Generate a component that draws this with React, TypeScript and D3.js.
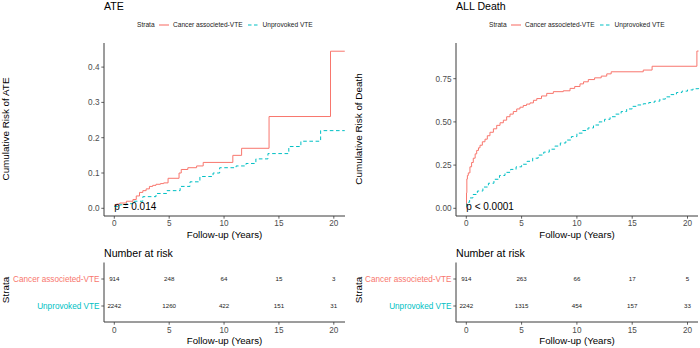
import React from 'react';
import * as d3 from 'd3';

// ---------- data ----------
const strata = ['Cancer associeted-VTE', 'Unprovoked VTE'];
const strataColors = ['#F8766D', '#00BFC4'];
const panelTitles = ['ATE', 'ALL Death'];
const yTitles = ['Cumulative Risk of ATE', 'Cumulative Risk of Death'];
const pValues = ['p = 0.014', 'p < 0.0001'];
const xTicks = [0, 5, 10, 15, 20];
const ateYTicks = [0, 0.1, 0.2, 0.3, 0.4];
const deathYTicks = [0, 0.25, 0.5, 0.75];

const ateCancerTime = [0, 0.2, 0.5, 1.1, 1.7, 2.0, 2.3, 2.6, 2.9, 3.2, 3.5, 3.8, 4.2, 4.5, 4.9, 5.9, 6.1, 6.7, 7.5, 8.1, 10.8, 11.6, 14.1, 19.7, 21.0];
const ateCancerRisk = [0.008, 0.012, 0.015, 0.02, 0.025, 0.035, 0.045, 0.05, 0.055, 0.062, 0.065, 0.068, 0.07, 0.072, 0.085, 0.1, 0.11, 0.115, 0.12, 0.13, 0.15, 0.17, 0.26, 0.445, 0.445];
const ateUnprovTime = [0, 0.5, 1.1, 1.7, 2.6, 3.8, 4.8, 6.0, 6.9, 7.8, 9.0, 9.6, 11.1, 12.0, 12.9, 14.0, 15.9, 17.0, 18.8, 21.0];
const ateUnprovRisk = [0.005, 0.01, 0.013, 0.02, 0.033, 0.042, 0.05, 0.062, 0.075, 0.09, 0.1, 0.115, 0.12, 0.127, 0.14, 0.155, 0.175, 0.19, 0.22, 0.22];

const deathCancerTime = [0, 0.02, 0.05, 0.1, 0.18, 0.33, 0.48, 0.63, 0.8, 0.94, 1.1, 1.24, 1.45, 1.69, 1.9, 2.14, 2.45, 2.75, 3.05, 3.35, 3.65, 3.95, 4.25, 4.56, 4.85, 5.15, 5.45, 5.76, 6.07, 6.37, 6.8, 7.27, 7.87, 8.77, 9.38, 9.8, 10.28, 10.6, 11.03, 11.6, 12.2, 12.7, 13.1, 16.0, 16.8, 20.85, 21.0];
const deathCancerRisk = [0.0, 0.09, 0.17, 0.19, 0.205, 0.24, 0.265, 0.29, 0.315, 0.335, 0.35, 0.365, 0.385, 0.4, 0.42, 0.44, 0.46, 0.48, 0.495, 0.51, 0.53, 0.545, 0.56, 0.575, 0.585, 0.595, 0.603, 0.61, 0.625, 0.635, 0.65, 0.665, 0.675, 0.68, 0.694, 0.705, 0.72, 0.732, 0.745, 0.755, 0.765, 0.778, 0.79, 0.8, 0.822, 0.91, 0.91];
const deathUnprovTime = [0, 0.05, 0.3, 0.6, 1.0, 1.5, 2.0, 2.5, 3.0, 3.5, 4.0, 4.5, 5.0, 5.5, 6.0, 6.5, 7.0, 7.5, 8.0, 8.5, 9.0, 9.5, 10.0, 10.5, 11.0, 11.5, 12.0, 12.5, 13.0, 13.5, 14.0, 14.5, 15.0, 15.5, 16.0, 16.5, 17.0, 17.5, 18.0, 18.5, 19.0, 19.5, 20.0, 20.5, 21.0];
const deathUnprovRisk = [0.01, 0.035, 0.06, 0.08, 0.1, 0.123, 0.145, 0.168, 0.19, 0.208, 0.225, 0.24, 0.255, 0.272, 0.29, 0.308, 0.325, 0.342, 0.36, 0.378, 0.395, 0.415, 0.435, 0.45, 0.465, 0.482, 0.5, 0.515, 0.53, 0.545, 0.56, 0.575, 0.59, 0.598, 0.605, 0.612, 0.62, 0.632, 0.645, 0.658, 0.67, 0.678, 0.685, 0.692, 0.698];

const riskTimes = [0, 5, 10, 15, 20];
const ateRiskCancer = [914, 248, 64, 15, 3];
const ateRiskUnprov = [2242, 1260, 422, 151, 31];
const deathRiskCancer = [914, 263, 66, 17, 5];
const deathRiskUnprov = [2242, 1315, 454, 157, 33];

// ---------- styles ----------
const FONT = '"Liberation Sans", Arial, Helvetica, sans-serif';
const AXIS_COL = '#3a3a3a';
const TICK_COL = '#4D4D4D';

type Series = { time: number[]; risk: number[] };

interface PanelProps {
  axisX: number;
  x0: number;
  x20: number;
  xEnd: number;
  yTop: number;
  yMaxTick: number;
  yMaxPx: number;
  yTicks: number[];
  tickFmt: (v: number) => string;
  title: string;
  yTitle: string;
  yTitleX: number;
  pValue: string;
  series: Series[];
  riskCounts: number[][];
}

const Panel: React.FC<PanelProps> = (p) => {
  const x = d3.scaleLinear().domain([0, 20]).range([p.x0, p.x20]);
  const y = d3.scaleLinear().domain([0, p.yMaxTick]).range([208.3, p.yMaxPx]);
  const plotBottom = 216;
  const line = d3
    .line<[number, number]>()
    .x((d) => x(d[0]))
    .y((d) => y(d[1]))
    .curve(d3.curveStepAfter);

  const tableTop = 262.5;
  const tableBottom = 322;
  const rowY = d3.scalePoint<string>().domain(strata).range([279, 306]);
  const ax = p.axisX;

  return (
    <g fontFamily={FONT}>
      {/* title */}
      <text x={ax} y={9.5} fontSize={10.6} fill="#000">{p.title}</text>
      {/* legend */}
      <g>
        <text x={ax + 33} y={25} dy="0.35em" fontSize={6.6} fill="#222">Strata</text>
        <line x1={ax + 55} x2={ax + 65} y1={25} y2={25} stroke={strataColors[0]} strokeWidth={1.1} />
        <text x={ax + 69} y={25} dy="0.35em" fontSize={6.6} fill="#222">{strata[0]}</text>
        <line x1={ax + 144} x2={ax + 155} y1={25} y2={25} stroke={strataColors[1]} strokeWidth={1.1} strokeDasharray="3.5,2.5" />
        <text x={ax + 158.5} y={25} dy="0.35em" fontSize={6.6} fill="#222">{strata[1]}</text>
      </g>
      {/* curves */}
      {p.series.map((s, i) => (
        <path
          key={i}
          d={line(s.time.map((t, k) => [t, s.risk[k]] as [number, number])) || ''}
          fill="none"
          stroke={strataColors[i]}
          strokeWidth={1}
          strokeDasharray={i === 1 ? '3.6,2.6' : undefined}
        />
      ))}
      {/* axes */}
      <line x1={ax} x2={ax} y1={p.yTop} y2={plotBottom} stroke={AXIS_COL} strokeWidth={1} />
      <line x1={ax} x2={p.xEnd} y1={plotBottom} y2={plotBottom} stroke={AXIS_COL} strokeWidth={1} />
      {p.yTicks.map((t) => (
        <g key={'y' + t}>
          <line x1={ax - 2.7} x2={ax} y1={y(t)} y2={y(t)} stroke={AXIS_COL} strokeWidth={0.8} />
          <text x={ax - 4.5} y={y(t)} dy="0.35em" textAnchor="end" fontSize={8.2} fill={TICK_COL}>
            {p.tickFmt(t)}
          </text>
        </g>
      ))}
      {xTicks.map((t) => (
        <g key={'x' + t}>
          <line x1={x(t)} x2={x(t)} y1={plotBottom} y2={plotBottom + 2.7} stroke={AXIS_COL} strokeWidth={0.8} />
          <text x={x(t)} y={223.5} dy="0.35em" textAnchor="middle" fontSize={8.2} fill={TICK_COL}>
            {t}
          </text>
        </g>
      ))}
      <text x={(ax + p.xEnd) / 2} y={235} dy="0.35em" textAnchor="middle" fontSize={9.7} fill="#000">
        Follow-up (Years)
      </text>
      <text
        transform={`translate(${p.yTitleX},129) rotate(-90)`}
        textAnchor="middle"
        dy="0.35em"
        fontSize={9.9}
        fill="#000"
      >
        {p.yTitle}
      </text>
      <text x={x(0)} y={206} dy="0.35em" fontSize={10} fill="#000">{p.pValue}</text>

      {/* risk table */}
      <text x={ax} y={253.5} dy="0.35em" fontSize={10.6} fill="#000">Number at risk</text>
      <line x1={ax} x2={ax} y1={tableTop} y2={tableBottom} stroke={AXIS_COL} strokeWidth={1} />
      <line x1={ax} x2={p.xEnd} y1={tableBottom} y2={tableBottom} stroke={AXIS_COL} strokeWidth={1} />
      {strata.map((s, i) => (
        <g key={s}>
          <line x1={ax - 2.7} x2={ax} y1={rowY(s)!} y2={rowY(s)!} stroke={AXIS_COL} strokeWidth={0.8} />
          <text x={ax - 4.5} y={rowY(s)!} dy="0.35em" textAnchor="end" fontSize={8.2} fill={strataColors[i]}>
            {s}
          </text>
          {riskTimes.map((t, k) => (
            <text key={t} x={x(t)} y={rowY(s)!} dy="0.35em" textAnchor="middle" fontSize={6.2} fill="#222">
              {p.riskCounts[i][k]}
            </text>
          ))}
        </g>
      ))}
      {xTicks.map((t) => (
        <g key={'tx' + t}>
          <line x1={x(t)} x2={x(t)} y1={tableBottom} y2={tableBottom + 2.7} stroke={AXIS_COL} strokeWidth={0.8} />
          <text x={x(t)} y={330.5} dy="0.35em" textAnchor="middle" fontSize={8.2} fill={TICK_COL}>
            {t}
          </text>
        </g>
      ))}
      <text x={(ax + p.xEnd) / 2} y={340.5} dy="0.35em" textAnchor="middle" fontSize={9.7} fill="#000">
        Follow-up (Years)
      </text>
      <text
        transform={`translate(${p.yTitleX},290) rotate(-90)`}
        textAnchor="middle"
        dy="0.35em"
        fontSize={9.9}
        fill="#000"
      >
        Strata
      </text>
    </g>
  );
};

export default function App() {
  const fmt1 = d3.format('.1f');
  const fmt2 = d3.format('.2f');
  return (
    <svg
      width={700}
      height={348}
      viewBox="0 0 700 348"
      style={{ position: 'absolute', left: 0, top: 0, background: '#fff' }}
    >
      <rect width={700} height={348} fill="#fff" />
      <Panel
        axisX={104}
        x0={114.3}
        x20={333.8}
        xEnd={345}
        yTop={43}
        yMaxTick={0.4}
        yMaxPx={67.1}
        yTicks={ateYTicks}
        tickFmt={fmt1}
        title={panelTitles[0]}
        yTitle={yTitles[0]}
        yTitleX={6}
        pValue={pValues[0]}
        series={[
          { time: ateCancerTime, risk: ateCancerRisk },
          { time: ateUnprovTime, risk: ateUnprovRisk },
        ]}
        riskCounts={[ateRiskCancer, ateRiskUnprov]}
      />
      <Panel
        axisX={456}
        x0={466.3}
        x20={687.5}
        xEnd={698}
        yTop={43}
        yMaxTick={0.75}
        yMaxPx={78.7}
        yTicks={deathYTicks}
        tickFmt={fmt2}
        title={panelTitles[1]}
        yTitle={yTitles[1]}
        yTitleX={359}
        pValue={pValues[1]}
        series={[
          { time: deathCancerTime, risk: deathCancerRisk },
          { time: deathUnprovTime, risk: deathUnprovRisk },
        ]}
        riskCounts={[deathRiskCancer, deathRiskUnprov]}
      />
    </svg>
  );
}
